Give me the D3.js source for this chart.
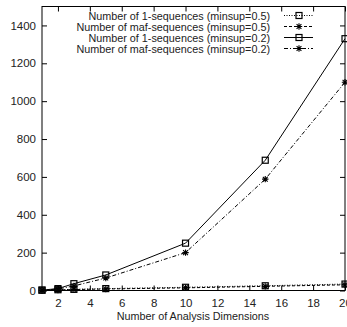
<!DOCTYPE html>
<html>
<head>
<meta charset="utf-8">
<script src="https://cdn.jsdelivr.net/npm/d3@7"></script>
<style>
  body { margin: 0; background: #fff; }
  text { font-family: "Liberation Sans", Arial, sans-serif; fill: #222; }
</style>
</head>
<body>
<div id="chart"></div>
<script>
var dims = [1, 2, 3, 5, 10, 15, 20];
var oneSeq05 = [2, 4, 6, 10, 17, 25, 34];
var mafSeq05 = [1, 3, 5, 8, 14, 22, 30];
var oneSeq02 = [2, 10, 36, 82, 250, 688, 1330];
var mafSeq02 = [1, 8, 24, 66, 200, 588, 1100];
var seriesNames = [
  "Number of 1-sequences (minsup=0.5)",
  "Number of maf-sequences (minsup=0.5)",
  "Number of 1-sequences (minsup=0.2)",
  "Number of maf-sequences (minsup=0.2)"
];
var xTicks = [2, 4, 6, 8, 10, 12, 14, 16, 18, 20];
var yTicks = [0, 200, 400, 600, 800, 1000, 1200, 1400];

var W = 347, H = 327;
var mLeft = 42, mRight = 345, mTop = 6.5, mBottom = 290.5;

var svg = d3.select("#chart").append("svg")
    .attr("width", W).attr("height", H);

var x = d3.scaleLinear().domain([1, 20]).range([mLeft, mRight]);
var y = d3.scaleLinear().domain([0, 1500]).range([mBottom, mTop]);

var series = [
  {name: seriesNames[0], values: oneSeq05, dash: "1,1.5", marker: "square"},
  {name: seriesNames[1], values: mafSeq05, dash: "3,2", marker: "star"},
  {name: seriesNames[2], values: oneSeq02, dash: null, marker: "square"},
  {name: seriesNames[3], values: mafSeq02, dash: "4,2,1,2", marker: "star"}
];

// axes, ticks pointing inward
var g = svg.append("g");
g.append("g").attr("transform", "translate(0," + mBottom + ")")
  .call(d3.axisBottom(x).tickValues(xTicks).tickFormat(d3.format("d"))
    .tickSizeInner(-5).tickSizeOuter(0).tickPadding(8));
g.append("g").attr("transform", "translate(0," + mTop + ")")
  .call(d3.axisTop(x).tickValues(xTicks).tickSizeInner(-5).tickSizeOuter(0).tickFormat(""));
g.append("g").attr("transform", "translate(" + mLeft + ",0)")
  .call(d3.axisLeft(y).tickValues(yTicks).tickFormat(d3.format("d"))
    .tickSizeInner(-5).tickSizeOuter(0).tickPadding(6));
g.append("g").attr("transform", "translate(" + mRight + ",0)")
  .call(d3.axisRight(y).tickValues(yTicks).tickSizeInner(-5).tickSizeOuter(0).tickFormat(""));
g.selectAll(".domain").remove();
g.selectAll(".tick line").attr("stroke", "#000");
g.selectAll(".tick text").style("font-size", "11.5px").attr("fill", "#222");

svg.append("rect")
  .attr("x", mLeft).attr("y", mTop)
  .attr("width", mRight - mLeft).attr("height", mBottom - mTop)
  .attr("fill", "none").attr("stroke", "#000").attr("stroke-width", 1);

var line = d3.line()
  .x(function(d) { return x(d[0]); })
  .y(function(d) { return y(d[1]); });

function drawMarker(sel, type, cx, cy) {
  if (type === "square") {
    sel.append("rect")
      .attr("x", cx - 3).attr("y", cy - 3)
      .attr("width", 6).attr("height", 6)
      .attr("fill", "none").attr("stroke", "#000").attr("stroke-width", 1.2);
  } else {
    var r = 3.2;
    sel.append("path")
      .attr("d", "M" + (cx - r) + "," + cy + "H" + (cx + r) +
                 "M" + cx + "," + (cy - r) + "V" + (cy + r) +
                 "M" + (cx - r * 0.75) + "," + (cy - r * 0.75) + "L" + (cx + r * 0.75) + "," + (cy + r * 0.75) +
                 "M" + (cx - r * 0.75) + "," + (cy + r * 0.75) + "L" + (cx + r * 0.75) + "," + (cy - r * 0.75))
      .attr("stroke", "#000").attr("stroke-width", 1.1).attr("fill", "none");
  }
}

series.forEach(function(s) {
  var pts = dims.map(function(d, i) { return [d, s.values[i]]; });
  svg.append("path")
    .datum(pts)
    .attr("d", line)
    .attr("fill", "none")
    .attr("stroke", "#000")
    .attr("stroke-width", 1)
    .attr("stroke-dasharray", s.dash);
  var mg = svg.append("g");
  pts.forEach(function(p) { drawMarker(mg, s.marker, x(p[0]), y(p[1])); });
});

// legend
var leg = svg.append("g");
series.forEach(function(s, i) {
  var ly = 15.5 + i * 11;
  leg.append("text")
    .attr("x", 270).attr("y", ly + 4)
    .attr("text-anchor", "end")
    .style("font-size", "10.8px")
    .text(s.name);
  leg.append("line")
    .attr("x1", 284).attr("x2", 313)
    .attr("y1", ly).attr("y2", ly)
    .attr("stroke", "#000").attr("stroke-width", 1)
    .attr("stroke-dasharray", s.dash);
  drawMarker(leg, s.marker, 299, ly);
});

svg.append("text")
  .attr("x", 193).attr("y", 320)
  .attr("text-anchor", "middle")
  .style("font-size", "10.8px")
  .text("Number of Analysis Dimensions");
</script>
</body>
</html>
